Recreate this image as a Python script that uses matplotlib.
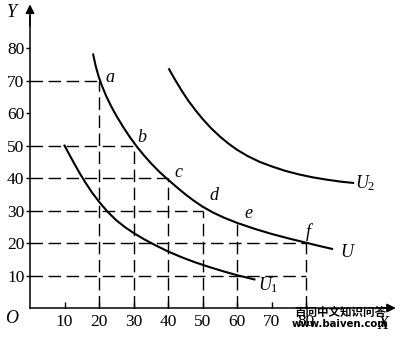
import matplotlib.pyplot as plt

plt.rcParams['font.family'] = ['Liberation Serif', 'Noto Sans CJK SC']
plt.rcParams['mathtext.fontset'] = 'custom'
plt.rcParams['mathtext.it'] = 'Liberation Serif:italic'
plt.rcParams['mathtext.rm'] = 'Liberation Serif'

# curves
u_x = [18.3, 19.0, 19.8, 20.8, 22, 23.5, 25, 27, 29, 31, 33, 35, 37.5, 40,
       42.5, 45, 47.5, 50, 53, 56, 60, 65, 70, 75, 80, 84, 87.5]
u_y = [78, 74.6, 71.5, 68.5, 65.4, 62.1, 59.2, 55.7, 52.5, 49.6, 47.0, 44.6, 41.9, 39.5,
       37.2, 35.0, 33.0, 31.2, 29.4, 27.9, 26.2, 24.4, 22.8, 21.4, 20.1, 19.05, 18.2]

u1_x = [10, 11.5, 13, 14.5, 16, 18, 20, 22.5, 25, 27.5, 30, 33, 36, 40,
        44, 48, 52, 56, 60, 65]
u1_y = [50, 47, 44.1, 41.3, 38.7, 35.5, 32.7, 29.6, 27.0, 24.9, 23.1, 21.2, 19.5, 17.4,
        15.6, 14.0, 12.6, 11.3, 10.1, 8.8]

u2_x = [40.3, 42, 44, 46, 48, 50, 52.5, 55, 57.5, 60, 63, 66.5, 70, 74,
        78, 82, 86, 90, 93.6]
u2_y = [73.5, 70.3, 66.8, 63.6, 60.8, 58.2, 55.3, 52.8, 50.6, 48.7, 46.8, 45.0, 43.6, 42.2,
        41.1, 40.2, 39.5, 38.9, 38.5]

# labelled points on U
pt_names = ['a', 'b', 'c', 'd', 'e', 'f']
pt_x = [20, 30, 40, 50, 60, 80]
pt_y = [70, 50, 40, 30, 26, 20]

# horizontal guide lines: level and where they stop
h_y = [70, 50, 40, 30, 20, 10]
h_x_end = [20, 30, 40, 50, 80, 80]

x_ticks = [10, 20, 30, 40, 50, 60, 70, 80]
y_ticks = [10, 20, 30, 40, 50, 60, 70, 80]

fig = plt.figure(figsize=(4, 3.38), dpi=100)
ax = fig.add_axes([0, 0, 1, 1])
ax.set_xlim(-8.7, 107.2)
ax.set_ylim(-9.23, 94.8)

for s in ['top', 'right']:
    ax.spines[s].set_visible(False)
ax.spines['left'].set_position(('data', 0))
ax.spines['bottom'].set_position(('data', 0))
ax.spines['left'].set_bounds(0, 90)
ax.spines['bottom'].set_bounds(0, 103)
ax.spines['left'].set_linewidth(1.1)
ax.spines['bottom'].set_linewidth(1.1)
ax.annotate('', xy=(0, 94.3), xytext=(0, 86), annotation_clip=False,
            arrowprops=dict(arrowstyle='-|>', color='k', lw=1.1, mutation_scale=13))
ax.annotate('', xy=(106.8, 0), xytext=(100, 0), annotation_clip=False,
            arrowprops=dict(arrowstyle='-|>', color='k', lw=1.1, mutation_scale=13))

ax.set_xticks(x_ticks)
ax.set_yticks(y_ticks)
ax.tick_params(axis='x', direction='in', length=4, width=1, pad=4.5, labelsize=12.5)
ax.tick_params(axis='y', direction='out', length=3, width=1, pad=1, labelsize=12.5)

dash = (0, (9, 4))
for y, xe in zip(h_y, h_x_end):
    ax.plot([0, xe], [y, y], color='k', lw=1.0, linestyle=dash)
for x, y in zip(pt_x, pt_y):
    ax.plot([x, x], [0, y], color='k', lw=1.0, linestyle=dash)

ax.plot(u_x, u_y, color='k', lw=1.5)
ax.plot(u1_x, u1_y, color='k', lw=1.5)
ax.plot(u2_x, u2_y, color='k', lw=1.5)

# point letters, placed up and to the right of each point
lbl_dx = [3.2, 2.5, 2.9, 3.3, 3.2, 0.6]
lbl_dy = [1.1, 2.6, 1.8, 4.5, 3.2, 3.4]
for name, x, y, dx, dy in zip(pt_names, pt_x, pt_y, lbl_dx, lbl_dy):
    ax.text(x + dx, y + dy, name, fontsize=13, style='italic', ha='center', va='center')

ax.text(91.9, 17.2, 'U', fontsize=13, style='italic', ha='center', va='center')
ax.text(69, 7, '$U_1$', fontsize=13, ha='center', va='center')
ax.text(97, 38.5, '$U_2$', fontsize=13, ha='center', va='center')
ax.text(-5.2, -3.1, 'O', fontsize=13, style='italic', ha='center', va='center')
ax.text(-5.2, 91.1, 'Y', fontsize=13, style='italic', ha='center', va='center')
ax.text(102.3, -5.2, 'X', fontsize=13, style='italic', ha='center', va='center')

# watermark
ax.text(89.9, -1.5, '百问中文知识问答', fontsize=8.3, family='Noto Sans CJK SC',
        weight='bold', ha='center', va='center')
ax.text(89.9, -4.9, 'www.baiven.com', fontsize=7.3, family='DejaVu Sans',
        weight='bold', ha='center', va='center')

plt.savefig('out.png', dpi=100)
